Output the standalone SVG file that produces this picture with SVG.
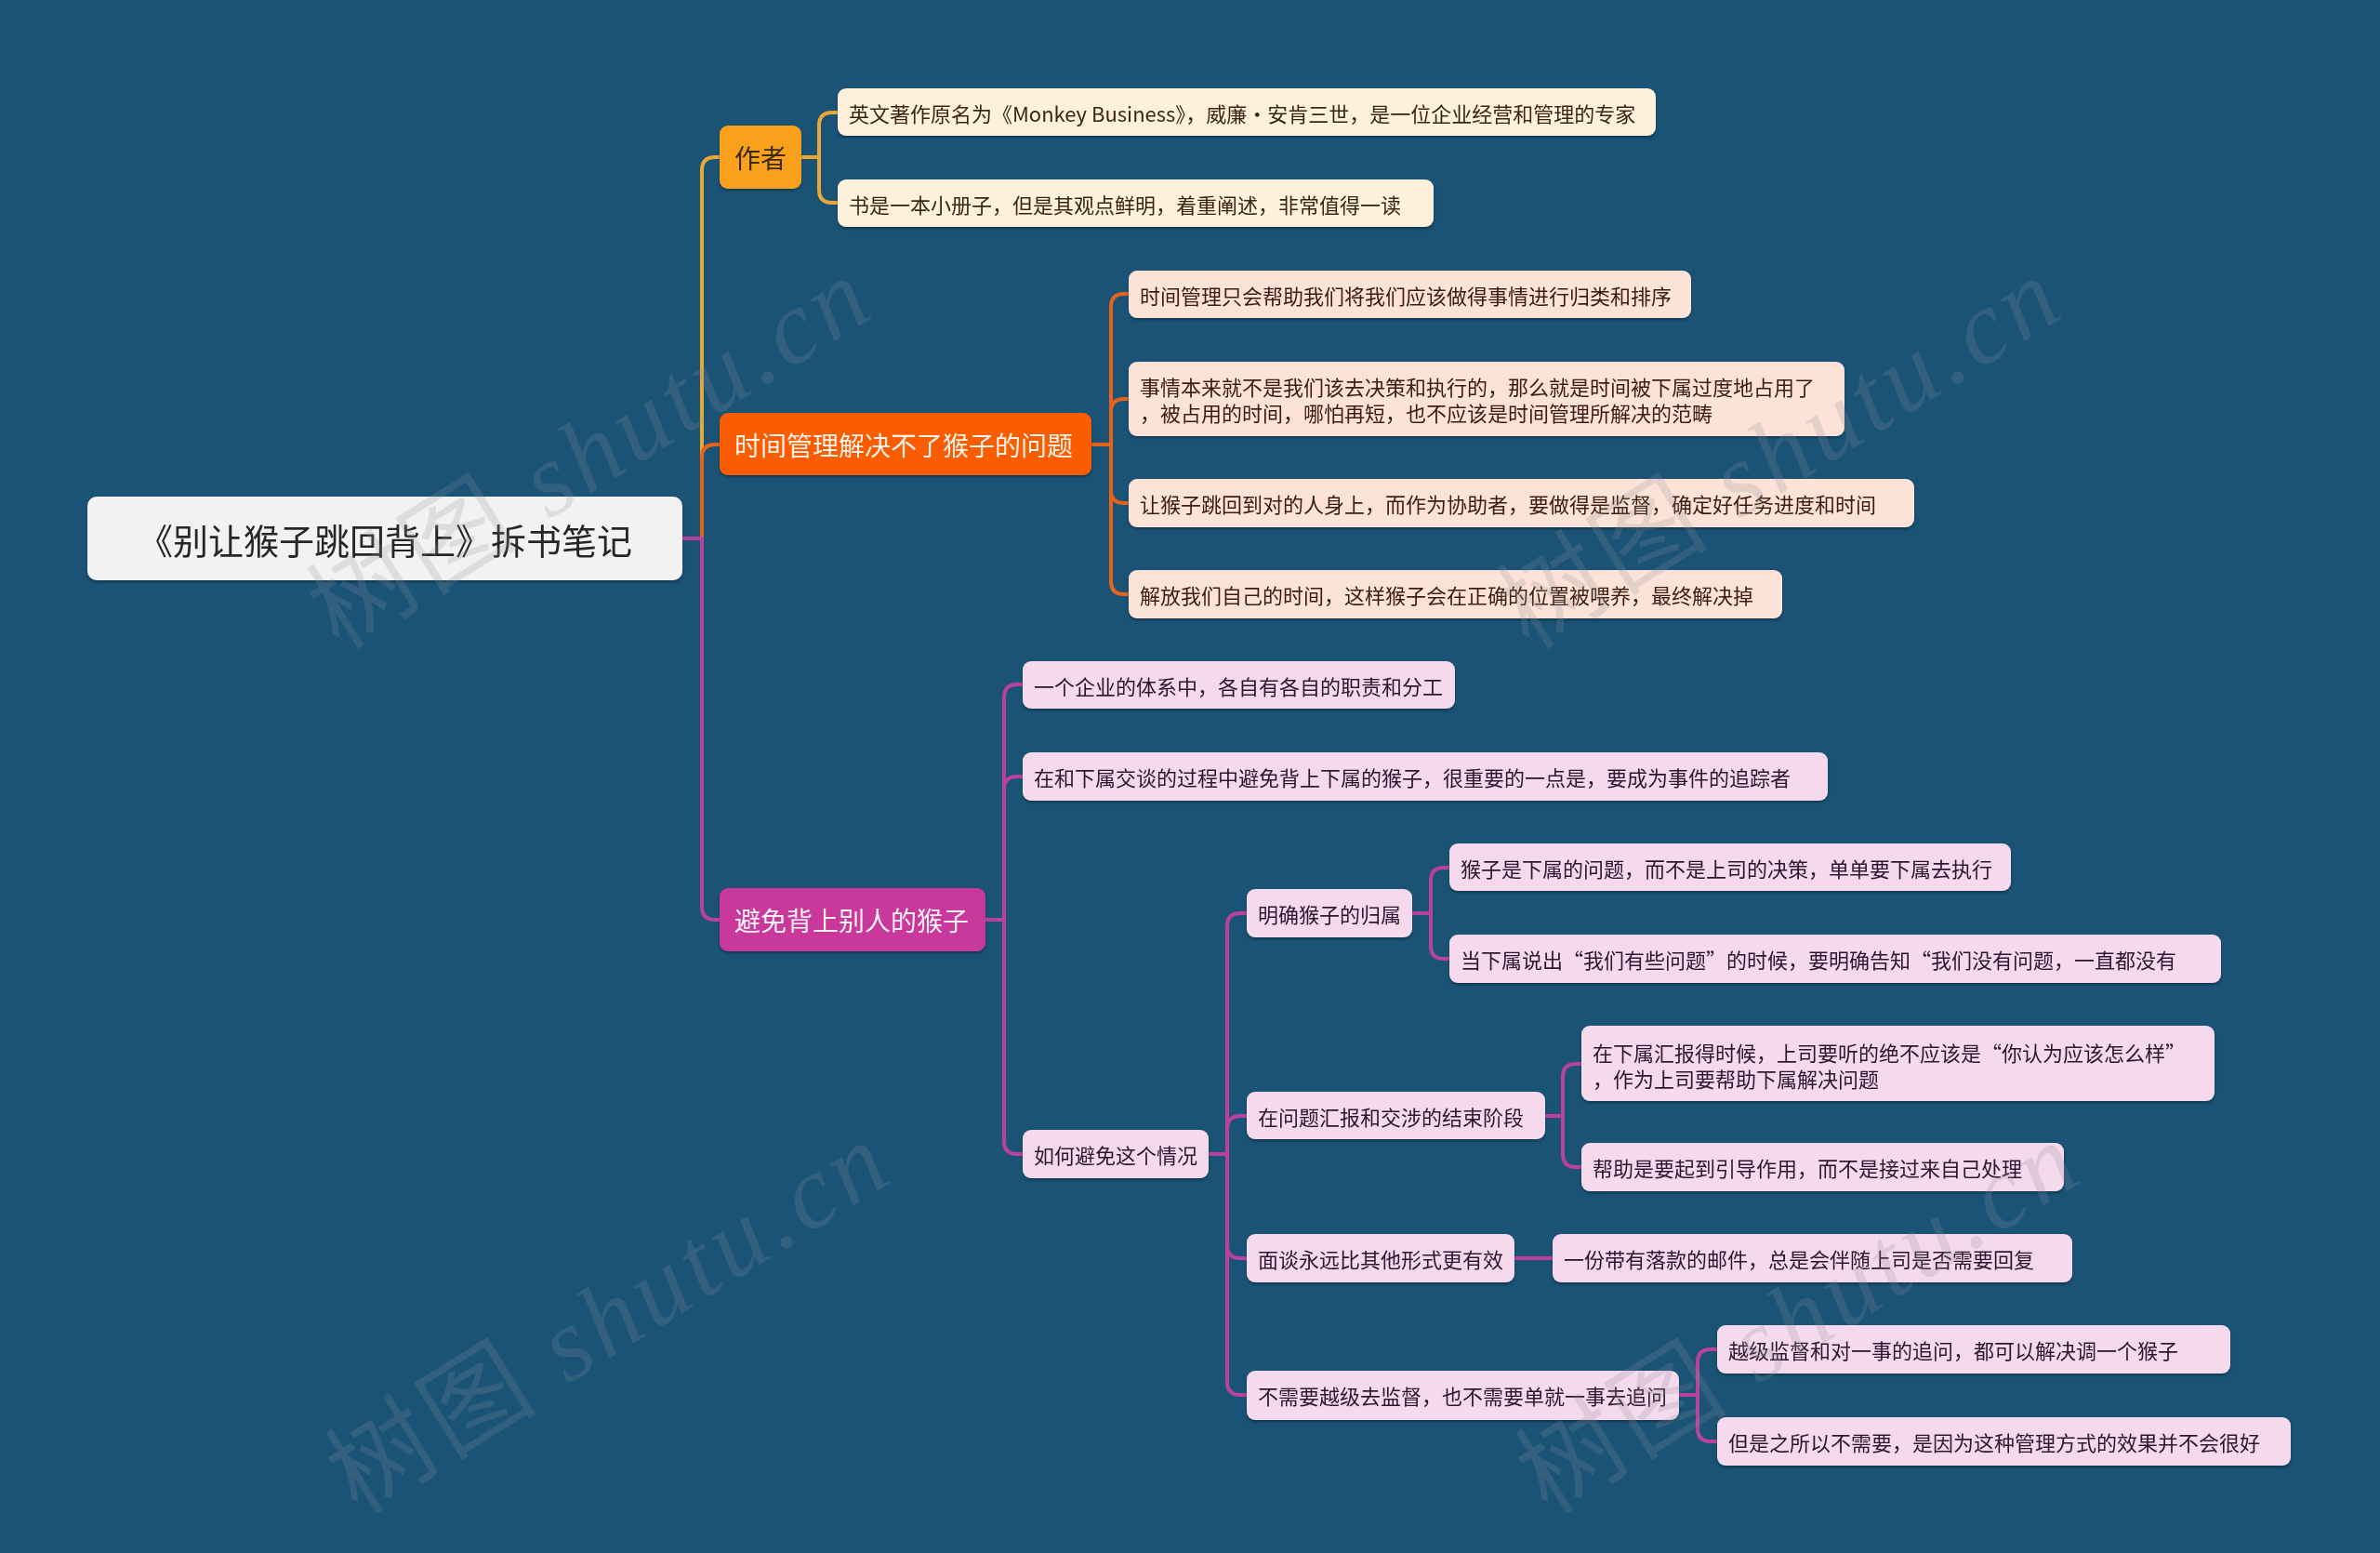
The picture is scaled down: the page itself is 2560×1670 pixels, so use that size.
<svg xmlns="http://www.w3.org/2000/svg" width="2560" height="1670" viewBox="0 0 2560 1670">
<defs>
<filter id="sh" x="-5%" y="-20%" width="110%" height="150%">
<feDropShadow dx="0" dy="2" stdDeviation="1.5" flood-color="#000" flood-opacity="0.35"/>
</filter>
<style>
text{font-family:"Noto Sans CJK SC","Noto Sans",sans-serif;dominant-baseline:central}
.box{filter:url(#sh)}
.root rect{fill:#f2f2f2}
.root text{font-size:38px;fill:#262626;text-anchor:middle}
.l1 text{font-size:28px}
.leaf text{font-size:22px}
.au rect{fill:#fdf1dc}
.au text{fill:#3a2710}
.tm rect{fill:#fde3d7}
.tm text{fill:#3a1c0e}
.av rect{fill:#f5d9ec}
.av text{fill:#2e1530}
.c path{fill:none;stroke-width:4;stroke-linecap:round}
.cy{stroke:#e9a735}
.co{stroke:#e6631c}
.cm{stroke:#b9429f}
.wm{font-size:112px;fill:#8a9299;fill-opacity:0.22;dominant-baseline:alphabetic}
.wm .lat{font-family:"Liberation Serif",serif;font-style:italic}
</style>
</defs>
<rect width="2560" height="1670" fill="#1a5376"/>

<g id="connectors" class="c">
<path class="cy" d="M734,579 H755 V183 Q755,169 769,169 H774"/>
<path class="co" d="M734,579 H755 V492 Q755,478 769,478 H774"/>
<path class="cm" d="M734,579 H755 V975 Q755,989 769,989 H774"/>

<path class="cy" d="M862,169 H881 V135 Q881,121 895,121 H901"/>
<path class="cy" d="M862,169 H881 V204 Q881,218 895,218 H901"/>

<path class="co" d="M1174,478 H1195 V330 Q1195,316 1209,316 H1214"/>
<path class="co" d="M1174,478 H1195 V443 Q1195,429 1209,429 H1214"/>
<path class="co" d="M1174,478 H1195 V527 Q1195,541 1209,541 H1214"/>
<path class="co" d="M1174,478 H1195 V625 Q1195,639 1209,639 H1214"/>

<path class="cm" d="M1060,989 H1080 V750 Q1080,736 1094,736 H1100"/>
<path class="cm" d="M1060,989 H1080 V849 Q1080,835 1094,835 H1100"/>
<path class="cm" d="M1060,989 H1080 V1227 Q1080,1241 1094,1241 H1100"/>

<path class="cm" d="M1300,1241 H1320 V996 Q1320,982 1334,982 H1341"/>
<path class="cm" d="M1300,1241 H1320 V1214 Q1320,1200 1334,1200 H1341"/>
<path class="cm" d="M1300,1241 H1320 V1339 Q1320,1353 1334,1353 H1341"/>
<path class="cm" d="M1300,1241 H1320 V1486 Q1320,1500 1334,1500 H1341"/>

<path class="cm" d="M1519,982 H1539 V947 Q1539,933 1553,933 H1559"/>
<path class="cm" d="M1519,982 H1539 V1017 Q1539,1031 1553,1031 H1559"/>

<path class="cm" d="M1662,1200 H1681 V1158 Q1681,1144 1695,1144 H1701"/>
<path class="cm" d="M1662,1200 H1681 V1241 Q1681,1255 1695,1255 H1701"/>

<path class="cm" d="M1629,1353 H1670"/>

<path class="cm" d="M1806,1500 H1826 V1465 Q1826,1451 1840,1451 H1847"/>
<path class="cm" d="M1806,1500 H1826 V1536 Q1826,1550 1840,1550 H1847"/>
</g>

<g id="root" class="root box">
<rect x="94" y="534" width="640" height="90" rx="10"/>
<text x="414" y="579">《别让猴子跳回背上》拆书笔记</text>
</g>

<g id="n-author" class="l1 box">
<rect x="774" y="135" width="88" height="68" rx="9" fill="#f9a11b"/>
<text x="790" y="169" fill="#3a2a10">作者</text>
</g>
<g id="n-time" class="l1 box">
<rect x="774" y="444" width="400" height="67" rx="9" fill="#fa5c06"/>
<text x="790" y="478" fill="#fff4ea">时间管理解决不了猴子的问题</text>
</g>
<g id="n-avoid" class="l1 box">
<rect x="774" y="955" width="286" height="68" rx="9" fill="#c9379b"/>
<text x="790" y="989" fill="#fff2fa">避免背上别人的猴子</text>
</g>

<g id="n-a1" class="leaf au box">
<rect x="901" y="95" width="880" height="51" rx="9"/>
<text x="913" y="121">英文著作原名为《Monkey Business》，威廉•安肯三世，是一位企业经营和管理的专家</text>
</g>
<g id="n-a2" class="leaf au box">
<rect x="901" y="193" width="641" height="51" rx="9"/>
<text x="913" y="219">书是一本小册子，但是其观点鲜明，着重阐述，非常值得一读</text>
</g>

<g id="n-t1" class="leaf tm box">
<rect x="1214" y="291" width="605" height="51" rx="9"/>
<text x="1226" y="317">时间管理只会帮助我们将我们应该做得事情进行归类和排序</text>
</g>
<g id="n-t2" class="leaf tm box">
<rect x="1214" y="389" width="770" height="80" rx="9"/>
<text x="1226" y="415">事情本来就不是我们该去决策和执行的，那么就是时间被下属过度地占用了</text>
<text x="1226" y="443">，被占用的时间，哪怕再短，也不应该是时间管理所解决的范畴</text>
</g>
<g id="n-t3" class="leaf tm box">
<rect x="1214" y="515" width="845" height="52" rx="9"/>
<text x="1226" y="541">让猴子跳回到对的人身上，而作为协助者，要做得是监督，确定好任务进度和时间</text>
</g>
<g id="n-t4" class="leaf tm box">
<rect x="1214" y="613" width="703" height="52" rx="9"/>
<text x="1226" y="639">解放我们自己的时间，这样猴子会在正确的位置被喂养，最终解决掉</text>
</g>

<g id="n-v1" class="leaf av box">
<rect x="1100" y="711" width="465" height="51" rx="9"/>
<text x="1112" y="737">一个企业的体系中，各自有各自的职责和分工</text>
</g>
<g id="n-v2" class="leaf av box">
<rect x="1100" y="809" width="866" height="52" rx="9"/>
<text x="1112" y="835">在和下属交谈的过程中避免背上下属的猴子，很重要的一点是，要成为事件的追踪者</text>
</g>
<g id="n-v3" class="leaf av box">
<rect x="1100" y="1215" width="200" height="52" rx="9"/>
<text x="1112" y="1241">如何避免这个情况</text>
</g>

<g id="n-h1" class="leaf av box">
<rect x="1341" y="956" width="178" height="52" rx="9"/>
<text x="1353" y="982">明确猴子的归属</text>
</g>
<g id="n-h2" class="leaf av box">
<rect x="1341" y="1174" width="321" height="51" rx="9"/>
<text x="1353" y="1200">在问题汇报和交涉的结束阶段</text>
</g>
<g id="n-h3" class="leaf av box">
<rect x="1341" y="1327" width="288" height="52" rx="9"/>
<text x="1353" y="1353">面谈永远比其他形式更有效</text>
</g>
<g id="n-h4" class="leaf av box">
<rect x="1341" y="1474" width="465" height="53" rx="9"/>
<text x="1353" y="1500">不需要越级去监督，也不需要单就一事去追问</text>
</g>

<g id="n-h1a" class="leaf av box">
<rect x="1559" y="907" width="604" height="51" rx="9"/>
<text x="1571" y="933">猴子是下属的问题，而不是上司的决策，单单要下属去执行</text>
</g>
<g id="n-h1b" class="leaf av box">
<rect x="1559" y="1005" width="830" height="52" rx="9"/>
<text x="1571" y="1031">当下属说出“我们有些问题”的时候，要明确告知“我们没有问题，一直都没有</text>
</g>

<g id="n-h2a" class="leaf av box">
<rect x="1701" y="1103" width="681" height="81" rx="9"/>
<text x="1713" y="1131">在下属汇报得时候，上司要听的绝不应该是“你认为应该怎么样”</text>
<text x="1713" y="1159">，作为上司要帮助下属解决问题</text>
</g>
<g id="n-h2b" class="leaf av box">
<rect x="1701" y="1229" width="519" height="52" rx="9"/>
<text x="1713" y="1255">帮助是要起到引导作用，而不是接过来自己处理</text>
</g>

<g id="n-h3a" class="leaf av box">
<rect x="1670" y="1327" width="559" height="52" rx="9"/>
<text x="1682" y="1353">一份带有落款的邮件，总是会伴随上司是否需要回复</text>
</g>

<g id="n-h4a" class="leaf av box">
<rect x="1847" y="1425" width="552" height="52" rx="9"/>
<text x="1859" y="1451">越级监督和对一事的追问，都可以解决调一个猴子</text>
</g>
<g id="n-h4b" class="leaf av box">
<rect x="1847" y="1524" width="617" height="52" rx="9"/>
<text x="1859" y="1550">但是之所以不需要，是因为这种管理方式的效果并不会很好</text>
</g>

<g id="watermarks">
<text class="wm" transform="translate(365,700) rotate(-32)" textLength="680" lengthAdjust="spacing">树图 <tspan class="lat">shutu.cn</tspan></text>
<text class="wm" transform="translate(1645,700) rotate(-32)" textLength="680" lengthAdjust="spacing">树图 <tspan class="lat">shutu.cn</tspan></text>
<text class="wm" transform="translate(385,1630) rotate(-32)" textLength="680" lengthAdjust="spacing">树图 <tspan class="lat">shutu.cn</tspan></text>
<text class="wm" transform="translate(1665,1630) rotate(-32)" textLength="680" lengthAdjust="spacing">树图 <tspan class="lat">shutu.cn</tspan></text>
</g>
</svg>
